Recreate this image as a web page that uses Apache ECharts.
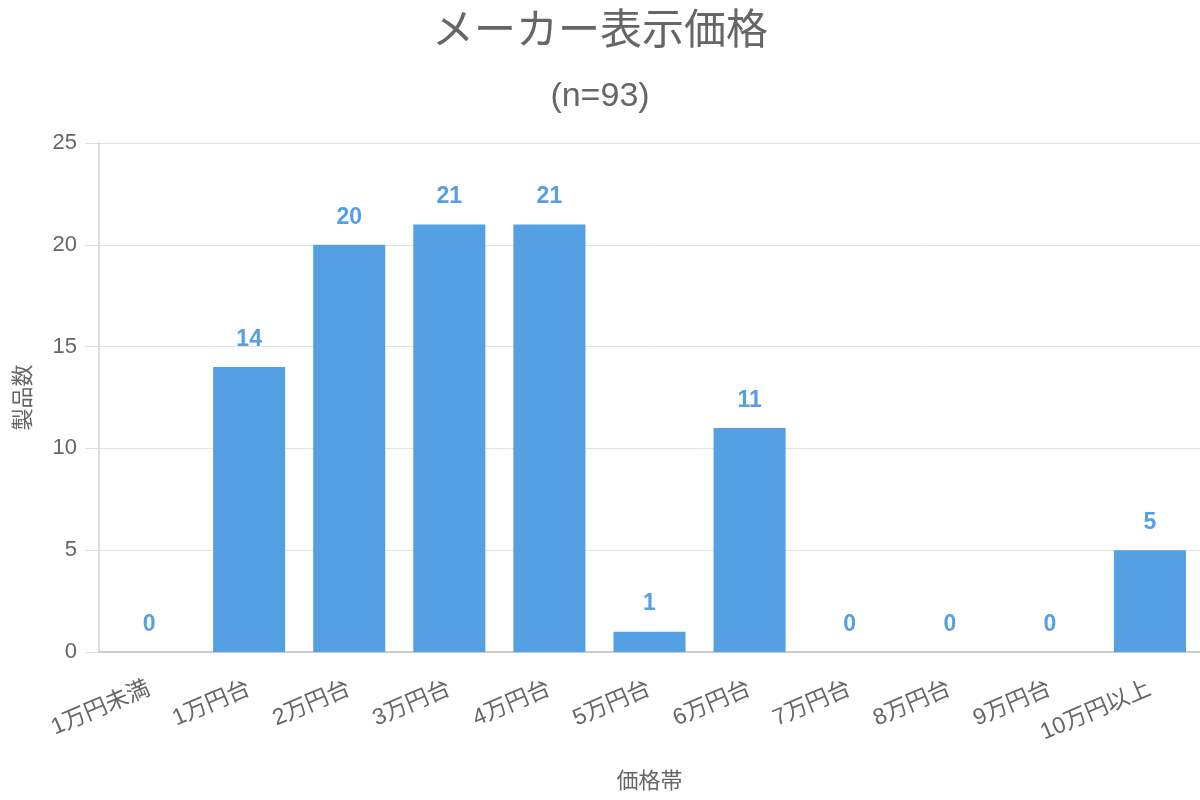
<!DOCTYPE html>
<html><head><meta charset="utf-8">
<script src="https://cdn.jsdelivr.net/npm/echarts@6/dist/echarts.min.js"></script>
<style>html,body{margin:0;padding:0;background:#fff}#c{width:1200px;height:800px}</style>
</head><body><div id="c"></div>
<script>
const categories = ['1万円未満','1万円台','2万円台','3万円台','4万円台','5万円台','6万円台','7万円台','8万円台','9万円台','10万円以上'];
const counts = [0,14,20,21,21,1,11,0,0,0,5];
const titleText = 'メーカー表示価格';
const subtitleText = '(n=93)';
const yAxisName = '製品数';
const xAxisName = '価格帯';

const FONT = '"Liberation Sans","Noto Sans CJK JP",sans-serif';
const chart = echarts.init(document.getElementById('c'));
chart.setOption({
  animation:false,
  textStyle:{fontFamily:FONT},
  title:[
    {text:titleText,left:'center',top:6,textStyle:{fontSize:42,fontWeight:'normal',color:'#666',fontFamily:FONT}},
    {text:subtitleText,left:'center',top:75,textStyle:{fontSize:34,fontWeight:'normal',color:'#666',fontFamily:FONT}}
  ],
  grid:{left:99,right:0,top:143,bottom:148,containLabel:false},
  xAxis:{
    type:'category',data:categories,
    axisLine:{show:true,lineStyle:{color:'#ccc',width:2}},
    axisTick:{show:false},
    axisLabel:{rotate:23,fontSize:23,color:'#666',margin:36,fontFamily:FONT},
    name:xAxisName,nameLocation:'middle',nameGap:119,
    nameTextStyle:{fontSize:22,color:'#666',fontFamily:FONT}
  },
  yAxis:{
    type:'value',min:0,max:25,interval:5,
    axisLine:{show:true,lineStyle:{color:'#ddd',width:2}},
    axisTick:{show:true,length:14,lineStyle:{color:'#ddd',width:1}},
    splitLine:{show:true,lineStyle:{color:'#e2e2e2',width:1}},
    axisLabel:{fontSize:22,color:'#666',margin:22,fontFamily:FONT},
    name:yAxisName,nameLocation:'middle',nameGap:64,nameRotate:90,
    nameTextStyle:{fontSize:22,color:'#666',fontFamily:FONT}
  },
  series:[{
    type:'bar',data:counts,barWidth:'72%',
    itemStyle:{color:'#559fe3'},
    label:{show:true,position:'top',distance:16,fontSize:23,fontWeight:'bold',color:'#559fe3',fontFamily:FONT}
  }]
});
</script></body></html>
